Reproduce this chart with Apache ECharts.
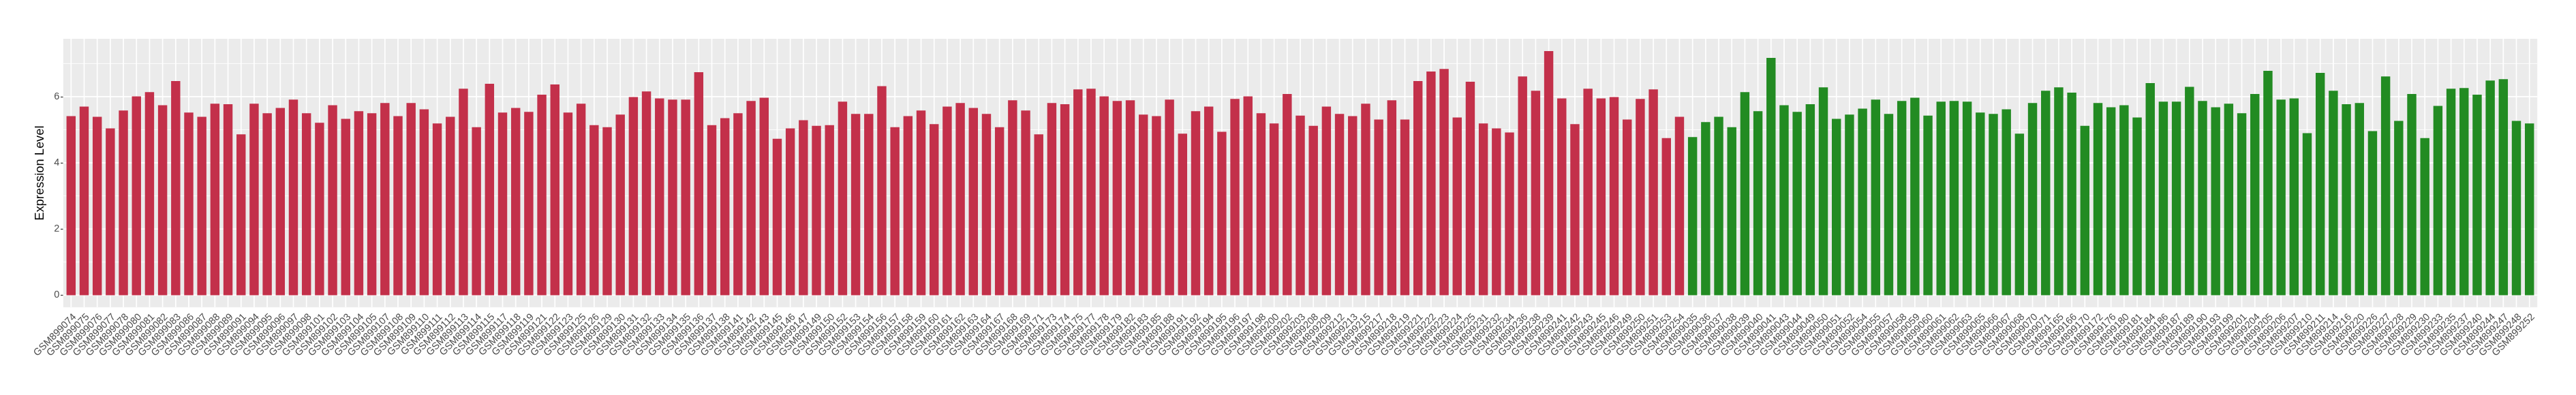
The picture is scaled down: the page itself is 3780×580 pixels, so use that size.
<!DOCTYPE html>
<html>
<head>
<meta charset="utf-8">
<script src="https://cdn.jsdelivr.net/npm/echarts@6/dist/echarts.min.js"></script>
<style>
  html, body { margin: 0; padding: 0; background: #ffffff; }
  #chart { width: 3780px; height: 580px; }
</style>
</head>
<body>
<div id="chart"></div>
<script>
const redSamples = [
  "GSM899074","GSM899075","GSM899076","GSM899077","GSM899078","GSM899080","GSM899081","GSM899082","GSM899083","GSM899086",
  "GSM899087","GSM899088","GSM899089","GSM899091","GSM899094","GSM899095","GSM899096","GSM899097","GSM899098","GSM899101",
  "GSM899102","GSM899103","GSM899104","GSM899105","GSM899107","GSM899108","GSM899109","GSM899110","GSM899111","GSM899112",
  "GSM899113","GSM899114","GSM899115","GSM899117","GSM899118","GSM899119","GSM899121","GSM899122","GSM899123","GSM899125",
  "GSM899126","GSM899129","GSM899130","GSM899131","GSM899132","GSM899133","GSM899134","GSM899135","GSM899136","GSM899137",
  "GSM899138","GSM899141","GSM899142","GSM899143","GSM899145","GSM899146","GSM899147","GSM899149","GSM899150","GSM899152",
  "GSM899153","GSM899154","GSM899156","GSM899157","GSM899158","GSM899159","GSM899160","GSM899161","GSM899162","GSM899163",
  "GSM899164","GSM899167","GSM899168","GSM899169","GSM899171","GSM899173","GSM899174","GSM899175","GSM899177","GSM899178",
  "GSM899179","GSM899182","GSM899183","GSM899185","GSM899188","GSM899191","GSM899192","GSM899194","GSM899195","GSM899196",
  "GSM899197","GSM899198","GSM899200","GSM899202","GSM899203","GSM899208","GSM899209","GSM899212","GSM899213","GSM899215",
  "GSM899217","GSM899218","GSM899219","GSM899221","GSM899222","GSM899223","GSM899224","GSM899225","GSM899231","GSM899232",
  "GSM899234","GSM899236","GSM899238","GSM899239","GSM899241","GSM899242","GSM899243","GSM899245","GSM899246","GSM899249",
  "GSM899250","GSM899251","GSM899253","GSM899254"
];
const redValues = [
  5.41, 5.70, 5.39, 5.04, 5.58, 6.01, 6.14, 5.74, 6.47, 5.52, 5.39, 5.79, 5.77, 4.86, 5.79, 5.50, 5.66, 5.91, 5.50, 5.21, 5.74, 5.33, 5.56, 5.50, 5.81,
  5.41, 5.81, 5.62, 5.19, 5.39, 6.24, 5.08, 6.39, 5.52, 5.66, 5.54, 6.06, 6.37, 5.52, 5.79, 5.14, 5.08, 5.46, 5.99, 6.16, 5.95, 5.91, 5.91, 6.74, 5.14,
  5.35, 5.50, 5.87, 5.97, 4.73, 5.04, 5.29, 5.12, 5.14, 5.85, 5.48, 5.48, 6.32, 5.08, 5.41, 5.58, 5.17, 5.70, 5.81, 5.66, 5.48, 5.08, 5.89, 5.58, 4.86,
  5.81, 5.77, 6.22, 6.24, 6.01, 5.87, 5.89, 5.46, 5.41, 5.91, 4.88, 5.56, 5.70, 4.94, 5.93, 6.01, 5.50, 5.19, 6.08, 5.43, 5.12, 5.70, 5.48, 5.41, 5.79,
  5.31, 5.89, 5.31, 6.47, 6.76, 6.84, 5.37, 6.45, 5.19, 5.04, 4.92, 6.61, 6.18, 7.38, 5.95, 5.17, 6.24, 5.95, 5.99, 5.31, 5.93, 6.22, 4.75, 5.39
];
const greenSamples = [
  "GSM899035","GSM899036","GSM899037","GSM899038","GSM899039","GSM899040","GSM899041","GSM899043","GSM899044","GSM899049",
  "GSM899050","GSM899051","GSM899052","GSM899054","GSM899055","GSM899057","GSM899058","GSM899059","GSM899060","GSM899061",
  "GSM899062","GSM899063","GSM899065","GSM899066","GSM899067","GSM899068","GSM899070","GSM899071","GSM899165","GSM899166",
  "GSM899170","GSM899172","GSM899176","GSM899180","GSM899181","GSM899184","GSM899186","GSM899187","GSM899189","GSM899190",
  "GSM899193","GSM899199","GSM899201","GSM899204","GSM899205","GSM899206","GSM899207","GSM899210","GSM899211","GSM899214",
  "GSM899216","GSM899220","GSM899226","GSM899227","GSM899228","GSM899229","GSM899230","GSM899233","GSM899235","GSM899237",
  "GSM899240","GSM899244","GSM899247","GSM899248","GSM899252"
];
const greenValues = [
  4.78, 5.23, 5.39, 5.08, 6.14, 5.56, 7.17, 5.74, 5.54, 5.77, 6.28, 5.33, 5.46, 5.64, 5.91, 5.48, 5.87, 5.97, 5.43, 5.85, 5.87, 5.85, 5.52, 5.48, 5.62,
  4.88, 5.81, 6.18, 6.28, 6.12, 5.12, 5.81, 5.68, 5.74, 5.37, 6.41, 5.85, 5.85, 6.30, 5.87, 5.68, 5.79, 5.50, 6.08, 6.78, 5.91, 5.95, 4.90, 6.72, 6.18,
  5.77, 5.81, 4.96, 6.61, 5.27, 6.08, 4.75, 5.72, 6.24, 6.26, 6.06, 6.49, 6.53, 5.27, 5.19
];
const yTickValues = [0, 2, 4, 6];
const yMinorValues = [1, 3, 5, 7];
const yTitle = "Expression Level";

const RED = "#C3304A";
const GREEN = "#228B22";
const FONT = "'Liberation Sans', Arial, Helvetica, sans-serif";

const categories = redSamples.concat(greenSamples);
const barData = redValues.map(v => ({ value: v, itemStyle: { color: RED } }))
  .concat(greenValues.map(v => ({ value: v, itemStyle: { color: GREEN } })));
const allValues = redValues.concat(greenValues);
const dataMax = Math.max.apply(null, allValues);
const yMin = -0.05 * dataMax;
const yMax = 1.05 * dataMax;

const chart = echarts.init(document.getElementById('chart'), null, { renderer: 'canvas' });

const option = {
  animation: false,
  backgroundColor: '#ffffff',
  grid: { left: 94.7, right: 58.7, top: 57, bottom: 128.7, containLabel: false },
  xAxis: {
    type: 'category',
    data: categories,
    axisLine: { show: false },
    axisTick: { show: true, alignWithLabel: true, length: 3.8, lineStyle: { color: '#333333', width: 1.2 } },
    axisLabel: {
      interval: 0, rotate: 45, fontSize: 14.5, color: '#4D4D4D', fontFamily: FONT,
      align: 'right', verticalAlign: 'top', margin: 6.5
    },
    splitLine: { show: false }
  },
  yAxis: {
    type: 'value',
    min: yMin, max: yMax,
    offset: 1.9,
    axisLine: { show: false },
    axisTick: { show: true, length: 3.8, customValues: yTickValues, lineStyle: { color: '#333333', width: 1.2 } },
    axisLabel: { customValues: yTickValues, fontSize: 14.5, color: '#4D4D4D', fontFamily: FONT, margin: 5.5 },
    splitLine: { show: false },
    name: yTitle,
    nameLocation: 'middle',
    nameGap: 20,
    nameTextStyle: { fontSize: 18.3, color: '#000000', fontFamily: FONT }
  },
  series: [
    {
      type: 'custom',
      z: 1,
      silent: true,
      clip: false,
      data: [[0, 0]],
      renderItem: function (params, api) {
        const cs = params.coordSys;
        const band = api.size([1, 0])[0];
        const ext = 0.1 * band;
        const x0 = cs.x - ext, x1 = cs.x + cs.width + ext;
        const y0 = cs.y, y1 = cs.y + cs.height;
        const children = [{
          type: 'rect', shape: { x: x0, y: y0, width: x1 - x0, height: y1 - y0 },
          style: { fill: '#EBEBEB' }
        }];
        yMinorValues.forEach(function (v) {
          const y = api.coord([0, v])[1];
          children.push({ type: 'line', shape: { x1: x0, y1: y, x2: x1, y2: y }, style: { stroke: '#FFFFFF', lineWidth: 0.9 } });
        });
        yTickValues.forEach(function (v) {
          const y = api.coord([0, v])[1];
          children.push({ type: 'line', shape: { x1: x0, y1: y, x2: x1, y2: y }, style: { stroke: '#FFFFFF', lineWidth: 1.7 } });
        });
        categories.forEach(function (c, i) {
          const x = api.coord([i, 0])[0];
          children.push({ type: 'line', shape: { x1: x, y1: y0, x2: x, y2: y1 }, style: { stroke: '#FFFFFF', lineWidth: 1.7 } });
        });
        return { type: 'group', children: children };
      }
    },
    {
      type: 'bar',
      z: 2,
      data: barData,
      barWidth: '70%'
    }
  ]
};
chart.setOption(option);
</script>
</body>
</html>
